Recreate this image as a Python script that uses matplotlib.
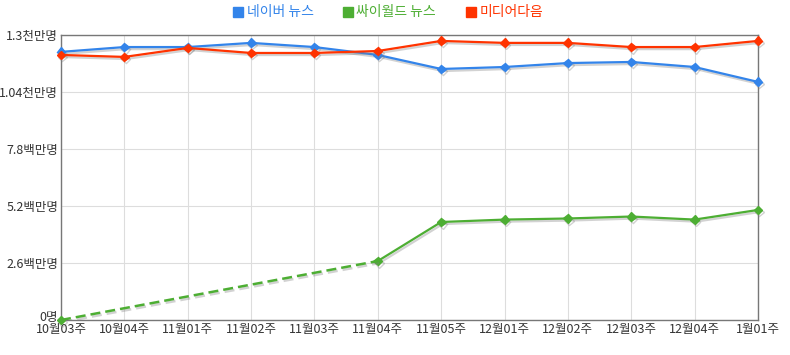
import numpy as np
import matplotlib.pyplot as plt
import matplotlib.patheffects as pe
import matplotlib.transforms as mtransforms
from matplotlib.lines import Line2D

plt.rcParams['font.family'] = ['Noto Sans CJK KR', 'DejaVu Sans']

weeks = ["10월03주", "10월04주", "11월01주", "11월02주", "11월03주", "11월04주",
         "11월05주", "12월01주", "12월02주", "12월03주", "12월04주", "1월01주"]

# visitors, millions
naver = [12.23, 12.45, 12.45, 12.64, 12.45, 12.09, 11.45, 11.54, 11.72, 11.77, 11.54, 10.86]
cyworld = [0.0, np.nan, np.nan, np.nan, np.nan, 2.69, 4.47, 4.58, 4.63, 4.72, 4.58, 5.02]
daum = [12.09, 12.0, 12.41, 12.18, 12.18, 12.27, 12.73, 12.64, 12.64, 12.45, 12.45, 12.73]

yticks = [0, 2.6, 5.2, 7.8, 10.4, 13.0]
ylabels = ["0명", "2.6백만명", "5.2백만명", "7.8백만명", "1.04천만명", "1.3천만명"]

colors = {"naver": "#3384EA", "cyworld": "#4DAE33", "daum": "#FF3300"}

fig = plt.figure(figsize=(7.9, 3.55), dpi=100)
ax = fig.add_axes([61 / 790, 35 / 355, 697 / 790, 285 / 355])

x = np.arange(len(weeks))
shadow = [pe.SimpleLineShadow(offset=(1, -1.5), shadow_color="gray", alpha=0.35), pe.Normal()]


def draw(vals, color):
    vals = np.array(vals, dtype=float)
    ok = ~np.isnan(vals)
    ax.plot(x, vals, color=color, lw=1.6, marker="D", ms=4.5, zorder=3,
            path_effects=shadow, clip_on=False)
    # dashed bridge over missing weeks
    idx = np.where(ok)[0]
    for a, b in zip(idx[:-1], idx[1:]):
        if b - a > 1:
            ax.plot([x[a], x[b]], [vals[a], vals[b]], color=color, lw=1.8, ls=(0, (4, 2)),
                    zorder=3, path_effects=shadow)


draw(naver, colors["naver"])
draw(cyworld, colors["cyworld"])
draw(daum, colors["daum"])

ax.set_xlim(0, len(weeks) - 1)
ax.set_ylim(0, 13.0)
ax.set_xticks(x)
ax.set_xticklabels(weeks)
ax.set_yticks(yticks)
ax.set_yticklabels(ylabels)
ax.tick_params(length=0, labelsize=9, colors="#333333", pad=2)
ax.grid(True, color="#DDDDDD", lw=0.8)
ax.set_axisbelow(True)
for s in ax.spines.values():
    s.set_color("#777777")
    s.set_linewidth(1)

# lift the "0명" label a little so it clears the first x label
lbl0 = ax.get_yticklabels()[0]
lbl0.set_transform(lbl0.get_transform() + mtransforms.ScaledTranslation(0, 4 / 100, fig.dpi_scale_trans))

handles = [Line2D([], [], ls="none", marker="s", ms=7, color=c) for c in colors.values()]
fig.legend(handles, ["네이버 뉴스", "싸이월드 뉴스", "미디어다음"], loc="upper center",
           bbox_to_anchor=(0.49, 1.02), ncol=3, frameon=False, fontsize=10,
           labelcolor="linecolor", handletextpad=0.1, columnspacing=2.0, handlelength=1)

fig.savefig("out.png", dpi=100)
